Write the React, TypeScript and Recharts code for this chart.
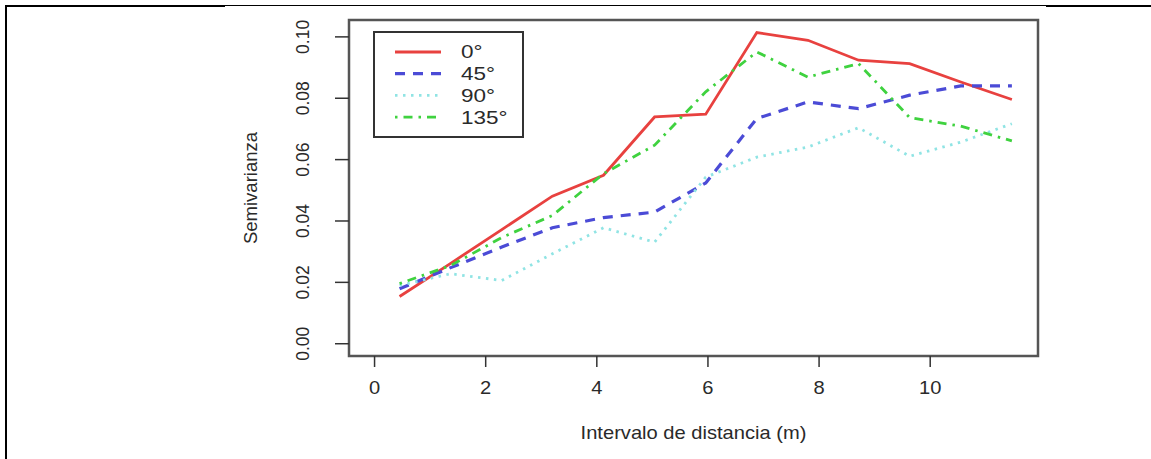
import {
  LineChart,
  Line,
  XAxis,
  YAxis,
  Legend,
  ReferenceArea,
} from "recharts";

// lag distances (m) and semivariance for each direction
const lags = [0.45, 1.37, 2.29, 3.2, 4.12, 5.04, 5.96, 6.88, 7.8, 8.71, 9.63, 10.55, 11.47];
const gamma0 = [0.0154, 0.0262, 0.0372, 0.0481, 0.0549, 0.0739, 0.0748, 0.1014, 0.0989, 0.0924, 0.0913, 0.0853, 0.0796];
const gamma45 = [0.0179, 0.0248, 0.0315, 0.0378, 0.0411, 0.0429, 0.0524, 0.0734, 0.0788, 0.0766, 0.081, 0.084, 0.084];
const gamma90 = [0.019, 0.0228, 0.0206, 0.0293, 0.0378, 0.0331, 0.0543, 0.0608, 0.0641, 0.0704, 0.0611, 0.0657, 0.0717];
const gamma135 = [0.0196, 0.0255, 0.0346, 0.0418, 0.0554, 0.0647, 0.0821, 0.0951, 0.0869, 0.0913, 0.0737, 0.0709, 0.0661];

const xTicks = [0, 2, 4, 6, 8, 10];
const yTicks = [0, 0.02, 0.04, 0.06, 0.08, 0.1];
const X_DOMAIN: [number, number] = [-0.46, 11.94];
const Y_DOMAIN: [number, number] = [-0.004, 0.1055];

const series = [
  { key: "g0", name: "0°", color: "#e8413f", width: 2.8, dash: undefined as string | undefined },
  { key: "g45", name: "45°", color: "#4b4bd6", width: 3.2, dash: "10 8" },
  { key: "g90", name: "90°", color: "#90e4e4", width: 2.8, dash: "2.5 5.5" },
  { key: "g135", name: "135°", color: "#3fd23f", width: 2.8, dash: "2.5 6 9 6" },
];

const data = lags.map((lag, i) => ({
  lag,
  g0: gamma0[i],
  g45: gamma45[i],
  g90: gamma90[i],
  g135: gamma135[i],
}));

const FONT = "'Liberation Sans', Arial, Helvetica, sans-serif";
const TEXT = "#2a2a2a";
const STRETCH = 1.15;

function stretch(x: number, k = STRETCH) {
  return `translate(${x} 0) scale(${k} 1) translate(${-x} 0)`;
}

function YTick({ x, y, payload }: any) {
  const cx = x - 32;
  return (
    <text
      x={cx}
      y={y}
      dy="0.36em"
      transform={`rotate(-90 ${cx} ${y})`}
      textAnchor="middle"
      fontSize={17.5}
      fontFamily={FONT}
      fill={TEXT}
    >
      {Number(payload.value).toFixed(2)}
    </text>
  );
}

function XTick({ x, y, payload }: any) {
  return (
    <text
      x={x}
      y={y + 27}
      transform={stretch(x)}
      textAnchor="middle"
      fontSize={17.5}
      fontFamily={FONT}
      fill={TEXT}
    >
      {payload.value}
    </text>
  );
}

function XLabel({ viewBox }: any) {
  const cx = viewBox.x + viewBox.width / 2;
  return (
    <text
      x={cx}
      y={viewBox.y + 83}
      transform={stretch(cx)}
      textAnchor="middle"
      fontSize={17.5}
      fontFamily={FONT}
      fill={TEXT}
    >
      Intervalo de distancia (m)
    </text>
  );
}

function YLabel({ viewBox }: any) {
  const cx = viewBox.x + viewBox.width - 99;
  const cy = viewBox.y + viewBox.height / 2;
  return (
    <text
      x={cx}
      y={cy}
      dy="0.36em"
      transform={`rotate(-90 ${cx} ${cy})`}
      textAnchor="middle"
      fontSize={18.5}
      fontFamily={FONT}
      fill={TEXT}
    >
      Semivarianza
    </text>
  );
}

function LegendBox() {
  return (
    <svg width={152} height={108} style={{ display: "block" }}>
      <rect x={1} y={1} width={149} height={105} fill="#fff" stroke="#333" strokeWidth={2} />
      {series.map((s, i) => {
        const rowY = 21 + i * 21.7;
        return (
          <g key={s.key}>
            <line
              x1={22}
              x2={68}
              y1={rowY}
              y2={rowY}
              stroke={s.color}
              strokeWidth={s.width}
              strokeDasharray={s.dash}
            />
            <text
              x={88}
              y={rowY + 6.5}
              transform={stretch(88, 1.25)}
              fontSize={18}
              fontFamily={FONT}
              fill={TEXT}
            >
              {s.name}
            </text>
          </g>
        );
      })}
    </svg>
  );
}

export default function App() {
  return (
    <div style={styles.page}>
      <div style={{ ...styles.line, left: 5, top: 5, width: 2, height: 454 }} />
      <div style={{ ...styles.line, left: 5, top: 5, width: 220, height: 2 }} />
      <div style={{ ...styles.line, left: 225, top: 5, width: 821, height: 1 }} />
      <div style={{ ...styles.line, left: 1046, top: 5, width: 105, height: 2 }} />
      <LineChart
        width={1151}
        height={459}
        data={data}
        margin={{ top: 20, right: 113, bottom: 0, left: 0 }}
        style={{ position: "absolute", left: 0, top: 0 }}
      >
        <XAxis
          dataKey="lag"
          type="number"
          domain={X_DOMAIN}
          ticks={xTicks}
          allowDataOverflow
          height={103}
          axisLine={false}
          tickLine={{ stroke: "#333", strokeWidth: 1.5 }}
          tickSize={11}
          tickMargin={0}
          tick={<XTick />}
          label={<XLabel />}
        />
        <YAxis
          type="number"
          domain={Y_DOMAIN}
          ticks={yTicks}
          allowDataOverflow
          width={349}
          axisLine={false}
          tickLine={{ stroke: "#333", strokeWidth: 1.5 }}
          tickSize={14}
          tickMargin={0}
          tick={<YTick />}
          label={<YLabel />}
        />
        <ReferenceArea
          x1={X_DOMAIN[0]}
          x2={X_DOMAIN[1]}
          y1={Y_DOMAIN[0]}
          y2={Y_DOMAIN[1]}
          fill="none"
          stroke="#555"
          strokeWidth={2.5}
        />
        {series.map((s) => (
          <Line
            key={s.key}
            type="linear"
            dataKey={s.key}
            name={s.name}
            stroke={s.color}
            strokeWidth={s.width}
            strokeDasharray={s.dash}
            dot={false}
            activeDot={false}
            isAnimationActive={false}
          />
        ))}
        <Legend
          layout="vertical"
          align="center"
          verticalAlign="middle"
          content={<LegendBox />}
          wrapperStyle={{ left: 373, top: 31, width: 152, height: 108 }}
        />
      </LineChart>
    </div>
  );
}

const styles: Record<string, React.CSSProperties> = {
  page: {
    position: "absolute",
    left: 0,
    top: 0,
    width: 1151,
    height: 459,
    background: "#fff",
    overflow: "hidden",
  },
  line: {
    position: "absolute",
    background: "#000",
    zIndex: 2,
  },
};
